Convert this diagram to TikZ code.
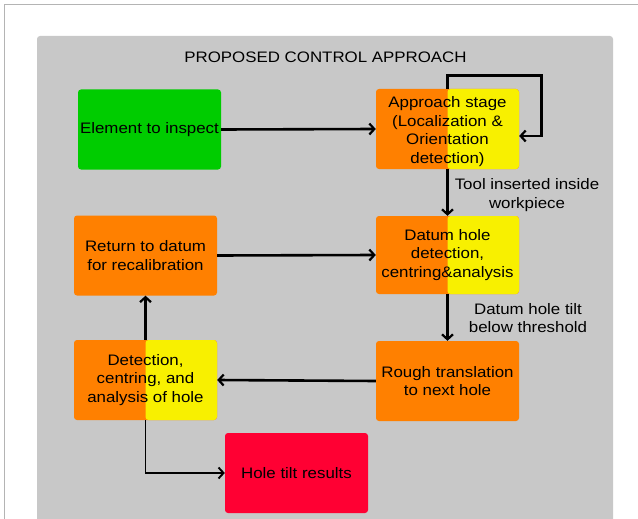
\documentclass[tikz,border=0pt]{standalone}
\usepackage{fontspec}
\setmainfont{Liberation Sans}[FakeStretch=1.11]
\usetikzlibrary{arrows.meta,calc}
\definecolor{cgreen}{HTML}{00CC00}
\definecolor{corange}{HTML}{FF8000}
\definecolor{cyellow}{HTML}{F8F000}
\definecolor{cred}{HTML}{FF0033}
\definecolor{cpanel}{HTML}{C8C8C8}
\definecolor{cframe}{HTML}{B4B4B4}
\begin{document}
\begin{tikzpicture}[x=1pt,y=-1pt,
  font=\fontsize{15.2}{18.7}\selectfont,
  box/.style={rounded corners=3pt, minimum width=143pt, minimum height=80pt, inner sep=2pt, align=center, text=black},
  splitbox/.style={box, fill=corange, path picture={\fill[cyellow] (path picture bounding box.north) rectangle (path picture bounding box.south east);}},
  arr/.style={line width=2.6pt, -{Straight Barb[length=5pt,width=11pt,line width=2.2pt]}},
  thinarr/.style={line width=1.9pt, -{Straight Barb[length=5pt,width=11pt,line width=1.9pt]}},
  lbl/.style={align=center, inner sep=0pt}]
\useasboundingbox (0,0) rectangle (638,519);
\begin{scope}
\clip (0,0) rectangle (638,519);
\draw[cframe, line width=0.8pt] (4,530) -- (4,4) -- (650,4);
\fill[cpanel, rounded corners=3pt] (37,36) rectangle (613,540);
\end{scope}
\node[inner sep=0pt] (title) at (325.5,57) {PROPOSED CONTROL APPROACH};
\node[box, fill=cgreen] (elem) at (149.5,129.5) {Element to inspect};
\node[splitbox] (appr) at (447.5,129) {};
\node[lbl] (apprtxt) at (447.5,131.5) {Approach stage\\(Localization \&\\Orientation\\detection)};
\node[splitbox, minimum height=78pt] (datum) at (447.5,255) {Datum hole\\detection,\\centring\&analysis};
\node[box, fill=corange] (rough) at (447.5,381) {Rough translation\\to next hole};
\node[box, fill=corange] (ret) at (145.5,255.5) {Return to datum\\for recalibration};
\node[splitbox] (det) at (145.5,380) {Detection,\\centring, and\\analysis of hole};
\node[box, fill=cred] (hole) at (296.5,473) {Hole tilt results};
\node[lbl] (l1) at (527,195) {Tool inserted inside\\workpiece};
\node[lbl] (l2) at (528,318) {Datum hole tilt\\below threshold};
\draw[arr] (elem.east) -- (appr.west);
\draw[arr] (appr.north) -- ++(0,-13) -| ($(appr.east)+(22,7)$) -- ($(appr.east)+(0,7)$);
\draw[arr] (appr.south) -- (datum.north);
\draw[arr] (ret.east) -- (datum.west);
\draw[arr] (datum.south) -- (rough.north);
\draw[arr] (rough.west) -- (det.east);
\draw[arr] (det.north) -- (ret.south);
\draw[thinarr] (det.south) |- (hole.west);
\end{tikzpicture}
\end{document}
